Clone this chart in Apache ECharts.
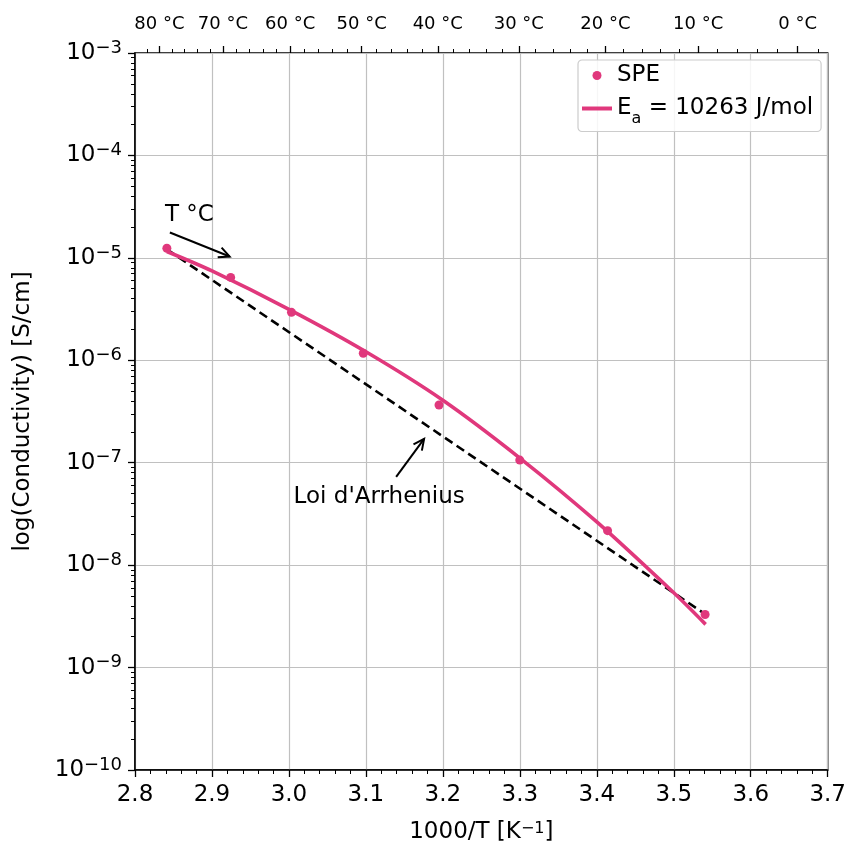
<!DOCTYPE html>
<html><head><meta charset="utf-8">
<script src="https://cdn.jsdelivr.net/npm/echarts@6/dist/echarts.min.js"></script>
<style>html,body{margin:0;padding:0;background:#fff}#c{width:849px;height:849px}</style>
</head><body><div id="c"></div>
<script>
// ---- data ----
const speX = [2.8414, 2.9243, 3.0033, 3.0966, 3.1950, 3.2999, 3.4140, 3.5407];
const speY = [1.24e-5, 6.44e-6, 2.94e-6, 1.17e-6, 3.66e-7, 1.06e-7, 2.17e-8, 3.30e-9];
const fitX = [2.8414, 2.9, 3.0, 3.1, 3.2, 3.3, 3.4, 3.5, 3.5414];
const fitY = [1.153e-5, 7.45e-6, 3.14e-6, 1.21e-6, 4.07e-7, 1.11e-7, 2.64e-8, 5.37e-9, 2.64e-9];
const arrX = [2.8414, 3.5414];
const arrY = [1.21e-5, 3.3e-9];
const xTicks = [2.8, 2.9, 3.0, 3.1, 3.2, 3.3, 3.4, 3.5, 3.6, 3.7];
const yExponents = [-10, -9, -8, -7, -6, -5, -4, -3];
const topTempsC = [80, 70, 60, 50, 40, 30, 20, 10, 0];
const topMinorC = [84, 82, 78, 76, 74, 72, 68, 66, 64, 62, 58, 56, 54, 52, 48, 46, 44, 42, 38, 36, 34, 32, 28, 26, 24, 22, 18, 16, 14, 12, 8, 6, 4, 2, -2];
const arrowStart = [[2.8453, 1.77e-5], [3.1393, 7.28e-8]];
const arrowEnd = [[2.9230, 1.03e-5], [3.1756, 1.71e-7]];
const annTexts = ['T °C', "Loi d'Arrhenius"];
const annPos = [[2.8389, 2.59e-5], [3.1173, 4.65e-8]];
const annAlign = ['left', 'center'];
const legendNames = ['SPE', 'Ea'];

const PINK = '#e0387c';
const FONT = 'DejaVu Sans';
const FS = 23;
const toX = c => 1000 / (c + 273.15);

const minorY = [];
for (let e = -10; e < -3; e++) for (let k = 2; k <= 9; k++) minorY.push(e + Math.log10(k));

const chart = echarts.init(document.getElementById('c'), null, {renderer: 'canvas'});
const option = {
  animation: false,
  backgroundColor: '#fff',
  textStyle: {fontFamily: FONT},
  grid: {left: 135, right: 19, top: 53, bottom: 77, show: true, borderColor: '#000', borderWidth: 1.5, backgroundColor: 'transparent'},
  legend: {
    data: [{name: 'SPE', icon: 'circle'}, {name: 'Ea', icon: 'path://M0,0H30V4H0Z'}],
    orient: 'vertical', left: 578, top: 60,
    padding: [4, 8, 5, 4], itemGap: 10, itemWidth: 30, itemHeight: 9,
    backgroundColor: 'rgba(255,255,255,0.85)', borderColor: '#cccccc', borderWidth: 1.2, borderRadius: 4,
    textStyle: {fontFamily: FONT, fontSize: FS, color: '#000',
      rich: {t: {fontFamily: FONT, fontSize: FS, color: '#000', lineHeight: 28},
             sub: {fontFamily: FONT, fontSize: 16, color: '#000', lineHeight: 16, verticalAlign: 'bottom', padding: [0, 0, -4, 0]}}},
    formatter: n => n === 'Ea' ? '{t|E}{sub|a}{t| = 10263 J/mol}' : '{t|' + n + '}'
  },
  xAxis: [
    {type: 'value', min: 2.8, max: 3.7, interval: 0.1, position: 'bottom',
     name: '1000/T [K{s|−1}]', nameLocation: 'middle', nameGap: 51,
     nameTextStyle: {fontFamily: FONT, fontSize: FS, color: '#000',
       rich: {s: {fontFamily: FONT, fontSize: 16, color: '#000', verticalAlign: 'top', lineHeight: 14}}},
     axisLine: {show: true, lineStyle: {color: '#000', width: 1.5}},
     axisTick: {show: true, length: 7, lineStyle: {color: '#000', width: 1.3}},
     minorTick: {show: true, splitNumber: 5, length: 4, lineStyle: {color: '#000', width: 1}},
     axisLabel: {fontFamily: FONT, fontSize: FS, color: '#000', margin: 14, formatter: v => v.toFixed(1)},
     splitLine: {show: true, lineStyle: {color: '#c0c0c0', width: 1.2}}},
    {type: 'value', min: 2.8, max: 3.7, position: 'top',
     axisLine: {show: false},
     axisTick: {show: true, length: 7, lineStyle: {color: '#000', width: 1.3}, customValues: topTempsC.map(toX)},
     axisLabel: {fontFamily: FONT, fontSize: 18, color: '#000', margin: 20, customValues: topTempsC.map(toX),
       formatter: v => Math.round(1000 / v - 273.15) + ' °C'},
     splitLine: {show: false}},
    {type: 'value', min: 2.8, max: 3.7, position: 'top',
     axisLine: {show: false},
     axisTick: {show: true, length: 4, lineStyle: {color: '#000', width: 1}, customValues: topMinorC.map(toX)},
     axisLabel: {show: false}, splitLine: {show: false}}
  ],
  yAxis: [
    {type: 'log', logBase: 10, min: 1e-10, max: 1e-3,
     name: 'log(Conductivity) [S/cm]', nameLocation: 'middle', nameGap: 100, nameRotate: 90,
     nameTextStyle: {fontFamily: FONT, fontSize: FS, color: '#000'},
     axisLine: {show: true, lineStyle: {color: '#000', width: 1.5}},
     axisTick: {show: true, length: 7, lineStyle: {color: '#000', width: 1.3}},
     axisLabel: {fontFamily: FONT, color: '#000', margin: 13,
       formatter: v => '{b|10}{s|−' + Math.abs(Math.round(Math.log10(v))) + '}',
       rich: {b: {fontFamily: FONT, fontSize: FS, color: '#000', lineHeight: 28},
              s: {fontFamily: FONT, fontSize: 18, color: '#000', lineHeight: 16, verticalAlign: 'top'}}},
     splitLine: {show: true, lineStyle: {color: '#c0c0c0', width: 1.2}}},
    {type: 'value', min: -10, max: -3, position: 'left',
     axisLine: {show: false},
     axisTick: {show: true, length: 4, lineStyle: {color: '#000', width: 1}, customValues: minorY},
     axisLabel: {show: false}, splitLine: {show: false}}
  ],
  series: [
    {name: 'Arrhenius', type: 'line', xAxisIndex: 0, yAxisIndex: 0, showSymbol: false, silent: true,
     data: arrX.map((x, i) => [x, arrY[i]]), lineStyle: {color: '#000', width: 2.6, type: [9, 5]}, z: 3},
    {name: 'Ea', type: 'line', xAxisIndex: 0, yAxisIndex: 0, smooth: 0.3, symbol: 'none', showSymbol: false,
     data: fitX.map((x, i) => [x, fitY[i]]), itemStyle: {color: PINK}, lineStyle: {color: PINK, width: 3.6}, z: 4},
    {name: 'SPE', type: 'scatter', xAxisIndex: 0, yAxisIndex: 0, symbol: 'circle', symbolSize: 9,
     data: speX.map((x, i) => [x, speY[i]]), itemStyle: {color: PINK, opacity: 1}, z: 5},
    {name: 'arrows', type: 'custom', xAxisIndex: 0, yAxisIndex: 0, silent: true, z: 6,
     encode: {x: [0, 2], y: [1, 3]},
     data: arrowStart.map((s, i) => [s[0], s[1], arrowEnd[i][0], arrowEnd[i][1]]),
     renderItem: (params, api) => {
       const p1 = api.coord([api.value(0), api.value(1)]);
       const p2 = api.coord([api.value(2), api.value(3)]);
       const ang = Math.atan2(p2[1] - p1[1], p2[0] - p1[0]);
       const L = 12, a = Math.PI / 7;
       const h1 = [p2[0] - L * Math.cos(ang - a), p2[1] - L * Math.sin(ang - a)];
       const h2 = [p2[0] - L * Math.cos(ang + a), p2[1] - L * Math.sin(ang + a)];
       return {type: 'group', children: [
         {type: 'line', shape: {x1: p1[0], y1: p1[1], x2: p2[0], y2: p2[1]}, style: {stroke: '#000', lineWidth: 2}},
         {type: 'polyline', shape: {points: [h1, p2, h2]}, style: {stroke: '#000', lineWidth: 2, fill: null}}
       ]};
     }},
    {name: 'texts', type: 'custom', xAxisIndex: 0, yAxisIndex: 0, silent: true, z: 6,
     data: annPos.map((p, i) => [p[0], p[1], i]),
     renderItem: (params, api) => {
       const i = api.value(2);
       const p = api.coord([api.value(0), api.value(1)]);
       return {type: 'text', x: p[0], y: p[1],
         style: {text: annTexts[i], fill: '#000', font: FS + 'px "DejaVu Sans"', textAlign: annAlign[i], textVerticalAlign: 'middle'}};
     }}
  ]
};
chart.setOption(option);
</script>
</body></html>
